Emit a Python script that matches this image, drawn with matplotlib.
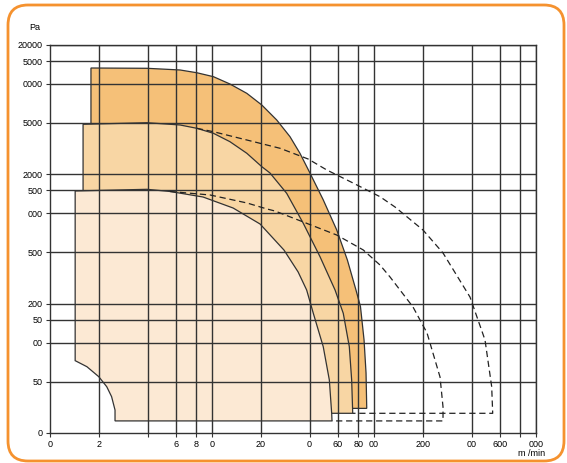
import matplotlib
matplotlib.use("Agg")
import matplotlib.pyplot as plt
from matplotlib.patches import FancyBboxPatch, Polygon

plt.rcParams['font.family'] = ['Liberation Sans', 'DejaVu Sans']

# axis ticks (log scales) and the truncated labels as printed
x_ticks = [1, 2, 4, 6, 8, 10, 20, 40, 60, 80, 100, 200, 400, 600, 800, 1000]
x_labels = ['0', '2', '', '6', '8', '0', '20', '0', '60', '80', '00', '200', '00', '600', '', '000']
y_ticks = [20, 50, 100, 150, 200, 500, 1000, 1500, 2000, 5000, 10000, 15000, 20000]
y_labels = ['0', '50', '00', '50', '200', '500', '000', '500', '2000', '5000', '0000', '5000', '20000']

# operating areas (flow m3/min, pressure Pa)
# (the lower-left corners of the two bigger areas sit behind the small one)
big_x = [2.6, 2.6, 1.79, 1.79, 3.97, 6.35, 8.05, 10.2, 12.9, 16.4, 20.3, 25.1, 30.3, 34.9, 40.3,
         48.6, 58.9, 68.5, 77.4, 82.5, 86.8, 89.3, 90.2]
big_y = [31.0, 72.5, 72.5, 13280, 13210, 12820, 12210, 11380, 9990, 8460, 6870, 5260, 3910, 2910,
         2040, 1270, 742, 435, 255, 190, 105, 58.2, 31.0]

mid_x = [2.6, 2.6, 1.60, 1.60, 3.97, 6.35, 8.05, 10.2, 12.9, 16.4, 20.3, 22.8, 28.9, 36.6, 46.4,
         57.5, 64.6, 70.4, 72.8, 73.9]
mid_y = [28.4, 72.5, 72.5, 4874, 5014, 4815, 4540, 4153, 3577, 2910, 2292, 2048, 1427, 836, 462,
         255, 168.5, 93, 51.4, 28.4]

small_x = [2.52, 2.52, 2.40, 2.24, 2.00, 1.69, 1.43, 1.43, 3.97, 5.50, 8.80, 13.5, 19.8, 27.8,
           34.0, 38.4, 42.2, 48.6, 53.0, 54.8, 55.05]
small_y = [24.8, 30.1, 38.2, 45.6, 54.5, 65.1, 72.5, 1487, 1532, 1474, 1336, 1098, 826, 520,
           352, 255, 168.5, 93, 51.4, 28.4, 24.8]

# dashed extensions
ext_mid_x = [8.05, 10.2, 16.4, 26.3, 39.2, 51.1, 74.2, 108.9, 134.8, 200.7, 266.7, 391.4, 484.4,
             532.7, 540.4, 73.9]
ext_mid_y = [4540, 4272, 3686, 3180, 2628, 2162, 1714, 1343, 1118, 742, 493, 225, 104.8,
             45.6, 28.4, 28.4]

ext_small_x = [5.5, 9.72, 16.44, 21.86, 24.49, 38.43, 58.86, 85.9, 108.9, 125.6, 174.1, 212.5,
               255.6, 266.7, 266.7, 55.05]
ext_small_y = [1474, 1385, 1201, 1079, 1041, 836, 679, 520, 398, 321.6, 188.5, 118.7,
               54.2, 31.8, 24.8, 24.8]

W, H = 567, 463
fig = plt.figure(figsize=(W / 100, H / 100), dpi=100)

# rounded orange frame
bg = fig.add_axes([0, 0, 1, 1])
bg.set_xlim(0, W)
bg.set_ylim(H, 0)
bg.axis('off')
bg.add_patch(FancyBboxPatch((8, 5), 556, 456, boxstyle="round,pad=0,rounding_size=20",
                            fc='white', ec='#F5922F', lw=2.0))

ax = fig.add_axes([50 / W, 30 / H, 486 / W, 388 / H])
ax.set_xscale('log')
ax.set_yscale('log')
ax.set_xlim(1, 1000)
ax.set_ylim(20, 20000)
ax.patch.set_alpha(0)

fills = [(big_x, big_y, '#F5C078'), (mid_x, mid_y, '#F8D6A4'), (small_x, small_y, '#FCE9D4')]
for i, (xs, ys, col) in enumerate(fills):
    ax.add_patch(Polygon(list(zip(xs, ys)), closed=True, fc=col, ec='#333333', lw=0.9,
                         zorder=1 + i * 0.1))

for t in x_ticks[1:]:
    ax.axvline(t, color='#333333', lw=1.0, zorder=2)
for t in y_ticks[1:]:
    ax.axhline(t, color='#333333', lw=1.0, zorder=2)

ax.plot(ext_mid_x, ext_mid_y, color='#222222', lw=0.9, dashes=(5, 3), zorder=3)
ax.plot(ext_small_x, ext_small_y, color='#222222', lw=0.9, dashes=(5, 3), zorder=3)

ax.set_xticks(x_ticks)
ax.set_xticklabels(x_labels)
ax.set_yticks(y_ticks)
ax.set_yticklabels(y_labels)
ax.minorticks_off()
ax.tick_params(axis='both', length=3, width=0.8, color='#333333', labelsize=6.5, pad=2)
for s in ax.spines.values():
    s.set_color('#333333')
    s.set_linewidth(1.0)

fig.text(35 / W, 1 - 27 / H, 'Pa', fontsize=6.5, ha='center', va='center')
fig.text(545 / W, 1 - 454 / H, 'm /min', fontsize=6.5, ha='right', va='center')

fig.savefig('out.png', dpi=100)
